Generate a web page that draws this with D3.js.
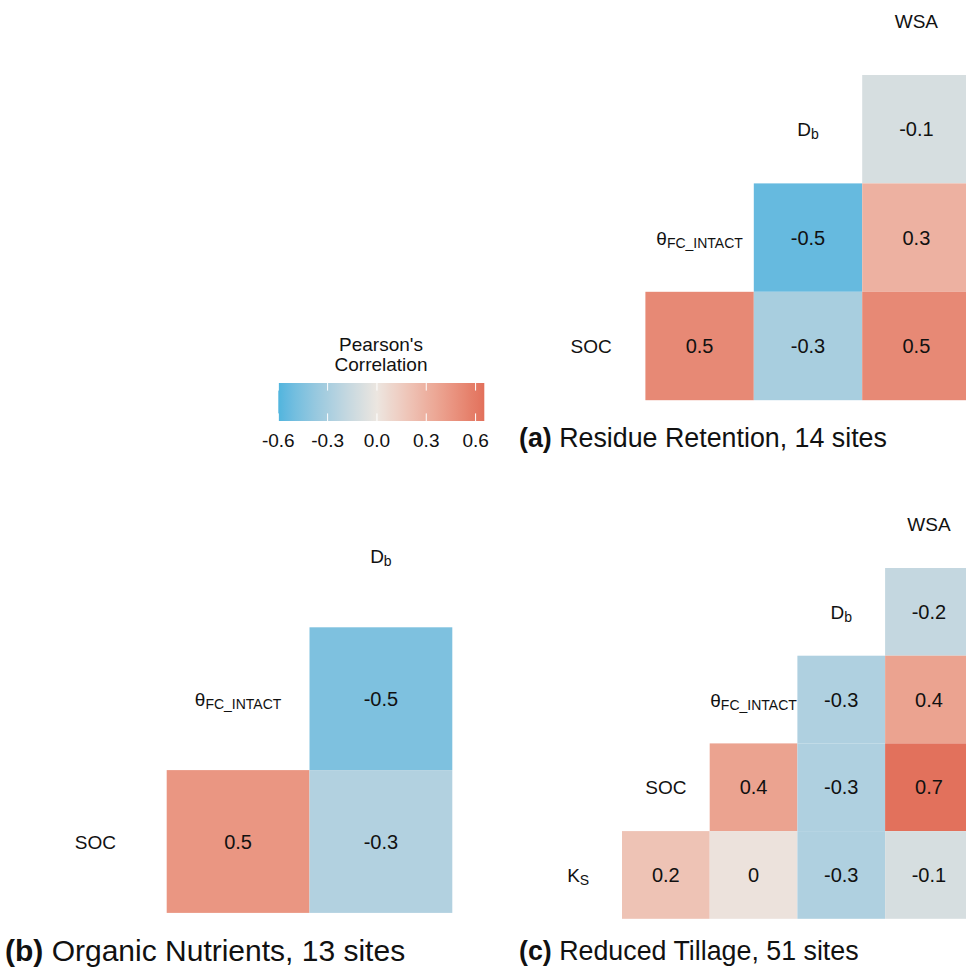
<!DOCTYPE html>
<html>
<head>
<meta charset="utf-8">
<script src="https://cdn.jsdelivr.net/npm/d3@7"></script>
<style>
  body { margin: 0; background: #fff; }
  text { font-family: "Liberation Sans", Arial, Helvetica, sans-serif; fill: #111; }
</style>
</head>
<body>
<svg id="chart" width="966" height="967"></svg>
<script>
// Variable order in each matrix (left-to-right, bottom-to-top)
const varsResidue   = ["SOC", "THETA", "Db", "WSA"];
const varsNutrients = ["SOC", "THETA", "Db"];
const varsTillage   = ["Ks", "SOC", "THETA", "Db", "WSA"];

// Pairwise Pearson correlations: [row variable, column variable, r]
const corrResidue = [
  ["Db", "WSA", -0.10],
  ["THETA", "Db", -0.54], ["THETA", "WSA", 0.30],
  ["SOC", "THETA", 0.52], ["SOC", "Db", -0.30], ["SOC", "WSA", 0.52]
];
const corrNutrients = [
  ["THETA", "Db", -0.46],
  ["SOC", "THETA", 0.45], ["SOC", "Db", -0.26]
];
const corrTillage = [
  ["Db", "WSA", -0.18],
  ["THETA", "Db", -0.27], ["THETA", "WSA", 0.38],
  ["SOC", "THETA", 0.38], ["SOC", "Db", -0.27], ["SOC", "WSA", 0.65],
  ["Ks", "SOC", 0.20], ["Ks", "THETA", 0.02], ["Ks", "Db", -0.27], ["Ks", "WSA", -0.10]
];

// Panel titles
const titleTags  = ["(a)", "(b)", "(c)"];
const titleTexts = ["Residue Retention, 14 sites", "Organic Nutrients, 13 sites", "Reduced Tillage, 51 sites"];

// Colour bar
const legendTitle = ["Pearson's", "Correlation"];
const legendTicks = [-0.6, -0.3, 0.0, 0.3, 0.6];
const corrLimits  = [-0.6, 0.653];

// Axis label markup: main text + subscript
const varLabels = {
  SOC:   ["SOC", ""],
  THETA: ["\u03B8", "FC_INTACT"],
  Db:    ["D", "b"],
  Ks:    ["K", "S"],
  WSA:   ["WSA", ""]
};

const svg = d3.select("#chart");

const lim = Math.max(Math.abs(corrLimits[0]), Math.abs(corrLimits[1]));
const color = d3.scaleLinear()
  .domain([-lim, 0, lim])
  .range(["#36B1DE", "#ECE6E0", "#E2705B"])
  .interpolate(d3.interpolateLab)
  .clamp(true);

const fmt = v => {
  const r = Math.round(v * 10) / 10;
  return r === 0 ? "0" : String(r);
};

function drawLabel(g, key, x, y) {
  const [main, sub] = varLabels[key];
  const t = g.append("text")
    .attr("x", x).attr("y", y)
    .attr("text-anchor", "middle")
    .attr("dominant-baseline", "central")
    .style("font-size", "19px");
  t.append("tspan").text(main);
  if (sub) {
    t.append("tspan").attr("dy", 5).style("font-size", "14px").text(sub);
  }
}

function drawMatrix(vars, corr, left, top, cell, title, tag, titleX, titleY, titleSize) {
  const n = vars.length;
  const g = svg.append("g");
  const x = d3.scaleBand().domain(vars).range([left, left + n * cell]);
  const y = d3.scaleBand().domain(vars.slice().reverse()).range([top, top + n * cell]);

  g.selectAll("rect.cell")
    .data(corr)
    .join("rect")
    .attr("class", "cell")
    .attr("x", d => x(d[1]))
    .attr("y", d => y(d[0]))
    .attr("width", x.bandwidth())
    .attr("height", y.bandwidth())
    .attr("fill", d => color(d[2]));

  g.selectAll("text.val")
    .data(corr)
    .join("text")
    .attr("class", "val")
    .attr("x", d => x(d[1]) + x.bandwidth() / 2)
    .attr("y", d => y(d[0]) + y.bandwidth() / 2)
    .attr("text-anchor", "middle")
    .attr("dominant-baseline", "central")
    .style("font-size", "20px")
    .text(d => fmt(d[2]));

  vars.forEach(v => drawLabel(g, v, x(v) + x.bandwidth() / 2, y(v) + y.bandwidth() / 2));

  const tt = g.append("text").attr("x", titleX).attr("y", titleY).style("font-size", titleSize + "px");
  tt.append("tspan").style("font-weight", "bold").text(tag);
  tt.append("tspan").text(" " + title);
}

drawMatrix(varsResidue, corrResidue, 537, -33.4, 108.4, titleTexts[0], titleTags[0], 519, 447, 26.8);
drawMatrix(varsNutrients, corrNutrients, 23.9, 484.5, 142.8, titleTexts[1], titleTags[1], 5, 961, 30);
drawMatrix(varsTillage, corrTillage, 534.3, 480.3, 87.7, titleTexts[2], titleTags[2], 519, 960, 26.8);

// Colour bar legend
const lg = svg.append("g");
const lx = d3.scaleLinear().domain(corrLimits).range([278.3, 484.3]);
const barTop = 383, barH = 38;

const grad = svg.append("defs").append("linearGradient").attr("id", "corrGrad");
d3.range(0, 1.0001, 0.02).forEach(t => {
  const v = corrLimits[0] + t * (corrLimits[1] - corrLimits[0]);
  grad.append("stop").attr("offset", t).attr("stop-color", color(v));
});
lg.append("rect")
  .attr("x", lx.range()[0]).attr("y", barTop)
  .attr("width", lx.range()[1] - lx.range()[0]).attr("height", barH)
  .attr("fill", "url(#corrGrad)");

legendTicks.forEach(t => {
  [barTop, barTop + barH - barH / 5].forEach(y0 => {
    lg.append("line")
      .attr("x1", lx(t)).attr("x2", lx(t))
      .attr("y1", y0).attr("y2", y0 + barH / 5)
      .attr("stroke", "#fff").attr("stroke-width", 1);
  });
});

lg.selectAll("text.tick")
  .data(legendTicks)
  .join("text")
  .attr("class", "tick")
  .attr("x", d => lx(d))
  .attr("y", 447)
  .attr("text-anchor", "middle")
  .style("font-size", "19px")
  .text(d => d3.format(".1f")(d).replace("\u2212", "-"));

lg.selectAll("text.ltitle")
  .data(legendTitle)
  .join("text")
  .attr("class", "ltitle")
  .attr("x", 381)
  .attr("y", (d, i) => 351 + i * 20)
  .attr("text-anchor", "middle")
  .style("font-size", "19px")
  .text(d => d);
</script>
</body>
</html>
